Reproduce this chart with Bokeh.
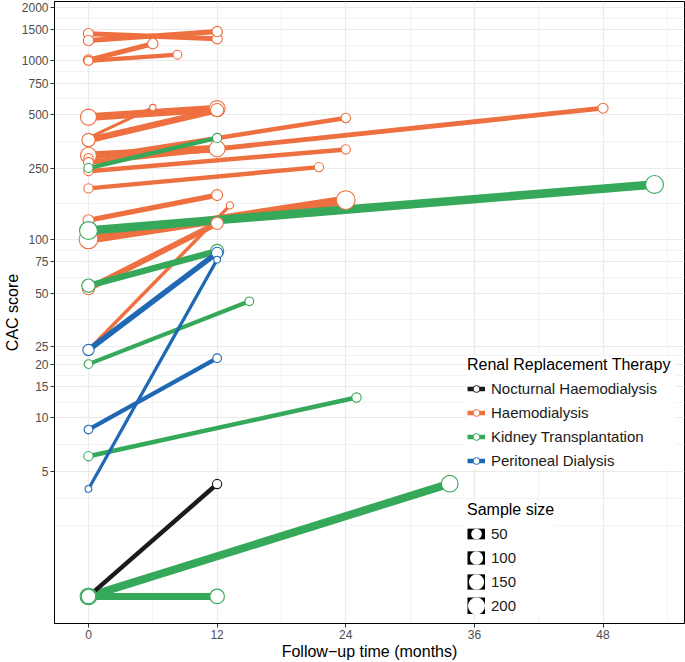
import numpy as np
from bokeh.plotting import figure
from bokeh.models import ColumnDataSource, FixedTicker, NumeralTickFormatter, Legend, LegendItem
from bokeh.embed import file_html
from bokeh.resources import INLINE

# ---------------- data ----------------
therapy_labels = ["Nocturnal Haemodialysis", "Haemodialysis", "Kidney Transplantation", "Peritoneal Dialysis"]
therapy_colors = ["#1B1B1B", "#EE6F3F", "#35A85A", "#1F68B3"]

# Haemodialysis studies
hd_month0 = [0, 0, 0, 0, 0, 0, 0, 0, 0, 0, 0, 0, 0, 0, 0, 0]
hd_cac0 = [1419, 1300, 1010, 1000, 484, 370, 360, 296, 285, 270, 241, 193, 128, 100, 53, 24]
hd_month1 = [12, 12, 6, 8.3, 12, 6, 12, 12, 24, 48, 24, 21.5, 12, 24, 12, 13.2]
hd_cac1 = [1330, 1459, 1247, 1082, 540, 547, 530, 322, 479, 543, 319, 254, 177, 166, 123, 155]
hd_n = [45, 45, 45, 25, 170, 5, 100, 170, 32, 40, 30, 30, 55, 260, 80, 10]

# Kidney transplantation studies
kt_month0 = [0, 0, 0, 0, 0, 0, 0]
kt_cac0 = [251, 112, 55, 20, 6.1, 1, 1]
kt_month1 = [12, 52.8, 12, 15, 25, 33.7, 12]
kt_cac1 = [370, 203, 86, 45, 13, 4.28, 1]
kt_n = [28, 230, 100, 23, 30, 190, 130]

# Peritoneal dialysis studies
pd_month0 = [0, 0, 0]
pd_cac0 = [24, 4.0, 8.6]
pd_month1 = [12, 12, 12]
pd_cac1 = [84, 77, 21.6]
pd_n = [60, 7, 23]

# Nocturnal haemodialysis studies
nhd_month0 = [0]
nhd_cac0 = [1]
nhd_month1 = [12]
nhd_cac1 = [4.26]
nhd_n = [30]

legend_sizes = [50, 100, 150, 200]

x_ticks = [0, 12, 24, 36, 48]
y_ticks = [5, 10, 15, 20, 25, 50, 75, 100, 250, 500, 750, 1000, 1500, 2000]

# ---------------- helpers ----------------
def point_diam(n):
    return 4.4 + 0.89 * np.sqrt(np.asarray(n, dtype=float))

def line_w(n):
    return 0.48 * point_diam(n)

FONT = "Liberation Sans"

p = figure(width=685, height=662, x_range=(-3.17, 55.6), y_range=(0.705, 2150),
           y_axis_type="log", output_backend="svg", toolbar_location=None,
           min_border_left=0, min_border_right=1, min_border_top=1, min_border_bottom=0)
p.background_fill_color = "white"
p.border_fill_color = "white"
p.outline_line_color = "black"
p.outline_line_width = 1

# grid (ggplot-like minor breaks: mid points in transformed space)
x_minor = [6, 18, 30, 42, 54]
ly = np.log10(y_ticks)
ext = np.concatenate([[ly[0] - (ly[1] - ly[0])], ly])
y_minor = list(10 ** ext[:1]) + list(10 ** ((ext[:-1] + ext[1:]) / 2))

p.xaxis.ticker = FixedTicker(ticks=x_ticks, minor_ticks=x_minor)
p.yaxis.ticker = FixedTicker(ticks=y_ticks, minor_ticks=y_minor)
p.yaxis.formatter = NumeralTickFormatter(format="0")

for g in (p.xgrid, p.ygrid):
    g.grid_line_color = "#EBEBEB"
    g.grid_line_width = 1.2
    g.minor_grid_line_color = "#F0F0F0"
    g.minor_grid_line_width = 0.8

for ax in (p.xaxis, p.yaxis):
    ax.axis_line_color = "black"
    ax.major_tick_line_color = "#333333"
    ax.major_tick_out = 4
    ax.major_tick_in = 0
    ax.minor_tick_line_color = None
    ax.major_label_text_font = FONT
    ax.major_label_text_font_size = "12px"
    ax.major_label_text_color = "#4D4D4D"
    ax.major_label_standoff = 2
    ax.axis_label_text_font = FONT
    ax.axis_label_text_font_size = "16px"
    ax.axis_label_text_font_style = "normal"
    ax.axis_label_text_color = "black"

p.xaxis.axis_label = "Follow\u2212up time (months)"
p.yaxis.axis_label = "CAC score"
p.xaxis.axis_label_standoff = 1
p.yaxis.axis_label_standoff = -2

groups = [
    ("Haemodialysis", hd_month0, hd_cac0, hd_month1, hd_cac1, hd_n),
    ("Kidney Transplantation", kt_month0, kt_cac0, kt_month1, kt_cac1, kt_n),
    ("Peritoneal Dialysis", pd_month0, pd_cac0, pd_month1, pd_cac1, pd_n),
    ("Nocturnal Haemodialysis", nhd_month0, nhd_cac0, nhd_month1, nhd_cac1, nhd_n),
]
color_of = dict(zip(therapy_labels, therapy_colors))

# lines first
for name, m0, c0, m1, c1, n in groups:
    src = ColumnDataSource(dict(x0=m0, y0=c0, x1=m1, y1=c1, lw=line_w(n)))
    p.segment(x0="x0", y0="y0", x1="x1", y1="y1", line_width="lw",
              line_color=color_of[name], source=src)
# then points (nocturnal first so the big green baseline circle sits on top)
for name, m0, c0, m1, c1, n in [groups[3]] + groups[:3]:
    src = ColumnDataSource(dict(x=list(m0) + list(m1), y=list(c0) + list(c1),
                                d=np.concatenate([point_diam(n), point_diam(n)])))
    p.scatter(x="x", y="y", size="d", marker="circle", fill_color="white",
              line_color=color_of[name], line_width=1.1, source=src)

# ---------------- legends ----------------
rrt_items = []
for name, col in zip(therapy_labels, therapy_colors):
    lr = p.line(x=[np.nan], y=[np.nan], line_color=col, line_width=4.5)
    sr = p.scatter(x=[np.nan], y=[np.nan], marker="circle", size=7, fill_color="white",
                   line_color=col, line_width=1)
    rrt_items.append(LegendItem(label=name, renderers=[lr, sr]))

size_items = []
for s in legend_sizes:
    d = float(point_diam(s))
    lr = p.line(x=[np.nan], y=[np.nan], line_color="black", line_width=min(d, 17))
    sr = p.scatter(x=[np.nan], y=[np.nan], marker="circle", size=7, fill_color="white",
                   line_color="white", line_width=max(d - 6.8, 0.5))
    size_items.append(LegendItem(label=str(s), renderers=[lr, sr]))

def style_legend(leg):
    leg.title_text_font = FONT
    leg.title_text_font_size = "16px"
    leg.title_text_font_style = "normal"
    leg.title_text_color = "black"
    leg.title_standoff = 6
    leg.label_text_font = FONT
    leg.label_text_font_size = "15px"
    leg.label_text_color = "#1A1A1A"
    leg.glyph_height = 17
    leg.glyph_width = 18
    leg.label_height = 17
    leg.label_standoff = 6
    leg.spacing = 7
    leg.padding = 10
    leg.margin = 0
    leg.border_line_color = None
    leg.background_fill_color = "white"
    leg.background_fill_alpha = 1.0

leg1 = Legend(items=rrt_items, title="Renal Replacement Therapy", location=(413, 154.5))
style_legend(leg1)
leg1.label_width = 185
leg2 = Legend(items=size_items, title="Sample size", location=(413, 9.5))
style_legend(leg2)
p.add_layout(leg1)
p.add_layout(leg2)

open("out.html", "w").write(file_html(p, INLINE))
